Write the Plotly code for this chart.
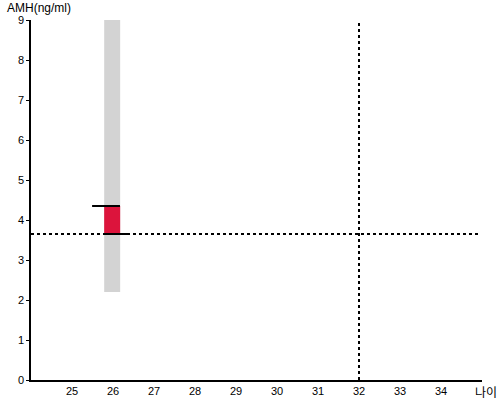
import plotly.graph_objects as go

# Data
age_center = [25.98]
bar_width = [0.39]
range_low = [2.2]
range_high = [9.0]
amh_low = [3.65]
amh_high = [4.35]
top_line_x = [25.49, 26.17]
bottom_line_x = [25.78, 26.41]
ref_age = 32
ref_amh = 3.65
x_ticks = [25, 26, 27, 28, 29, 30, 31, 32, 33, 34]
y_ticks = [0, 1, 2, 3, 4, 5, 6, 7, 8, 9]
x_range = [24, 35]
y_range = [0, 9]

fig = go.Figure()
fig.add_trace(go.Bar(x=age_center, y=[h - l for h, l in zip(range_high, range_low)],
                     base=range_low, width=bar_width, marker_color="#d3d3d3",
                     marker_line_width=0, hoverinfo="skip"))
fig.add_trace(go.Bar(x=age_center, y=[h - l for h, l in zip(amh_high, amh_low)],
                     base=amh_low, width=bar_width, marker_color="#dc143c",
                     marker_line_width=0, hoverinfo="skip"))
fig.add_trace(go.Scatter(x=[x_range[0], 34.95], y=[ref_amh, ref_amh], mode="lines",
                         line=dict(color="black", width=2, dash="dot")))
fig.add_trace(go.Scatter(x=[ref_age, ref_age], y=y_range, mode="lines",
                         line=dict(color="black", width=2, dash="dot")))
fig.add_trace(go.Scatter(x=top_line_x, y=amh_high * 2, mode="lines",
                         line=dict(color="black", width=2)))
fig.add_trace(go.Scatter(x=bottom_line_x, y=amh_low * 2, mode="lines",
                         line=dict(color="black", width=2)))

fig.update_layout(
    width=500, height=400,
    margin=dict(l=31, r=18, t=20, b=20, autoexpand=False),
    plot_bgcolor="white", paper_bgcolor="white",
    showlegend=False, barmode="overlay",
    font=dict(family="Liberation Sans, Arial", size=12, color="black"),
    xaxis=dict(range=x_range, tickvals=x_ticks, showgrid=False, zeroline=False,
               showline=True, linecolor="black", linewidth=1.5, ticks="",
               ticklen=0, tickfont=dict(size=11), automargin=False),
    yaxis=dict(range=y_range, tickvals=y_ticks, showgrid=False, zeroline=False,
               showline=True, linecolor="black", linewidth=1.5, ticks="outside",
               ticklen=3, tickcolor="black", tickfont=dict(size=11), automargin=False),
    annotations=[
        dict(text="AMH(ng/ml)", xref="paper", yref="paper", x=-0.058, y=1.033,
             xanchor="left", yanchor="middle", showarrow=False,
             font=dict(size=12)),
        dict(text="나이", xref="paper", yref="paper", x=1.009, y=-0.033,
             xanchor="center", yanchor="middle", showarrow=False,
             font=dict(size=12, family="Noto Sans CJK KR")),
    ],
)

fig.write_html("out.html", config={"displayModeBar": False},
               post_script="document.body.style.margin='0';")
